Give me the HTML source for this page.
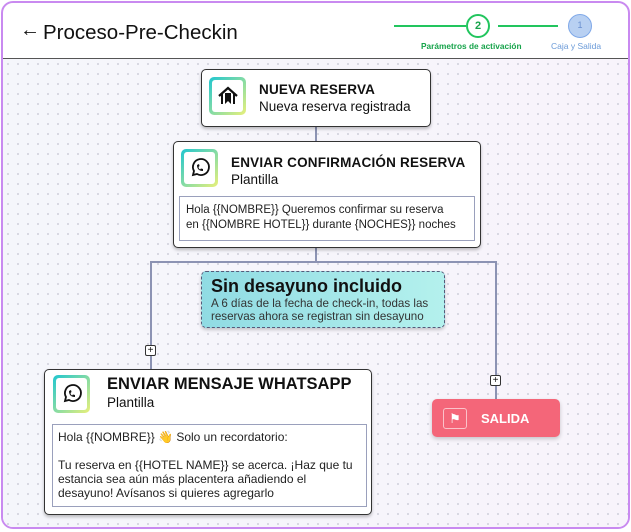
<!DOCTYPE html>
<html><head><meta charset="utf-8"><style>
*{box-sizing:border-box;margin:0;padding:0}
body{width:631px;height:532px;background:#fff;font-family:"Liberation Sans",sans-serif;position:relative;overflow:hidden;color:#111}
.frame{position:absolute;left:1px;top:1px;width:629px;height:528px;border:2px solid #c98af0;border-radius:12px;overflow:hidden;background:#fff}
.canvas{position:absolute;left:0;top:55px;width:100%;height:475px;border-top:1px solid #555;
background-image:radial-gradient(circle,#d6d6e0 1px,transparent 1.2px),linear-gradient(90deg,#f5f6fb,#f8f4fb);background-size:10px 10px,100% 100%}
.abs{position:absolute}
.node{position:absolute;background:#fff;border:1.5px solid #333;border-radius:5px;box-shadow:0 2px 3px rgba(0,0,0,.25)}
.icon{position:absolute;width:37px;height:38px;border-radius:5px;background:linear-gradient(135deg,#1fc6d0,#e9f07a);padding:3px}
.icon div{width:100%;height:100%;background:#fff;border-radius:3px;display:flex;align-items:center;justify-content:center}
.t{font-weight:bold;font-size:13.5px;letter-spacing:.2px}
.s{font-size:13.5px}
.box{position:absolute;border:1px solid #9aa0bc;font-size:11.5px;line-height:15px;padding:4px 6px;color:#222;white-space:nowrap}
.ln{position:absolute;background:#8c93b3}
.plus{position:absolute;width:11px;height:11px;border:1px solid #333;border-radius:2px;background:#fff;font-size:10px;line-height:9px;text-align:center}
</style></head><body>
<div class="frame">
 <div class="abs" style="left:17px;top:16px;font-size:20px">&#8592;</div>
 <div class="abs" style="left:40px;top:18px;font-size:20.5px">Proceso-Pre-Checkin</div>
 <div class="abs" style="left:391px;top:22px;width:72px;height:1.5px;background:#22c55e"></div>
 <div class="abs" style="left:463px;top:11px;width:24px;height:24px;border:2px solid #22c55e;border-radius:50%;color:#16a34a;font-size:11px;font-weight:bold;text-align:center;line-height:20px">2</div>
 <div class="abs" style="left:495px;top:22px;width:60px;height:1.5px;background:#22c55e"></div>
 <div class="abs" style="left:565px;top:11px;width:24px;height:24px;border:1.5px solid #7fa8e8;background:#b8d0f2;border-radius:50%;color:#6a8fd0;font-size:9px;text-align:center;line-height:21px">1</div>
 <div class="abs" style="left:418px;top:38px;font-size:8.3px;font-weight:bold;color:#16a34a">Parámetros de activación</div>
 <div class="abs" style="left:548px;top:38px;font-size:8.5px;color:#6a9ad8">Caja y Salida</div>
 <div class="canvas"></div>
</div>
<div class="ln" style="left:315px;top:126px;width:1.5px;height:16px"></div>
<div class="ln" style="left:315px;top:248px;width:1.5px;height:14px"></div>
<div class="ln" style="left:150px;top:261px;width:346px;height:1.5px"></div>
<div class="ln" style="left:150px;top:261px;width:1.5px;height:109px"></div>
<div class="ln" style="left:495px;top:261px;width:1.5px;height:139px"></div>
<div class="plus" style="left:145px;top:345px">+</div>
<div class="plus" style="left:490px;top:375px">+</div>

<div class="node" style="left:201px;top:69px;width:230px;height:58px">
 <div class="icon" style="left:7px;top:7px"><div><svg width="22" height="22" viewBox="0 0 22 22"><path d="M2 11 L11 3 L20 11" fill="none" stroke="#111" stroke-width="2.2"/><path d="M5 9 V19 M17 9 V19" stroke="#111" stroke-width="2"/><path d="M8 8 H14 V19 L11 16 L8 19Z" fill="#111"/></svg></div></div>
 <div class="abs t" style="left:57px;top:12px">NUEVA RESERVA</div>
 <div class="abs s" style="left:57px;top:29px">Nueva reserva registrada</div>
</div>

<div class="node" style="left:173px;top:141px;width:308px;height:107px">
 <div class="icon" style="left:7px;top:7px"><div><svg width="22" height="22" viewBox="0 0 22 22"><path d="M4 18 L5 14 A8 8 0 1 1 8 17 Z" fill="none" stroke="#111" stroke-width="1.8"/><path d="M8 8 Q8 14 14 14 L14 12 L12 11.5 L11 12.5 Q9.5 11.5 9.5 10 L10.5 9 L10 7 Z" fill="#111"/></svg></div></div>
 <div class="abs t" style="left:57px;top:13px">ENVIAR CONFIRMACIÓN RESERVA</div>
 <div class="abs s" style="left:57px;top:30px">Plantilla</div>
 <div class="box" style="left:5px;top:54px;width:296px;height:45px;padding-top:6px">Hola {{NOMBRE}} Queremos confirmar su reserva<br>en {{NOMBRE HOTEL}} durante {NOCHES}} noches</div>
</div>

<div class="abs" style="left:201px;top:271px;width:244px;height:57px;border:1.5px dashed #555a7a;border-radius:5px;background:linear-gradient(90deg,#90dbe3,#b4f1ed);box-shadow:0 2px 3px rgba(0,0,0,.2)">
 <div class="abs" style="left:9px;top:4px;font-size:18px;font-weight:bold;white-space:nowrap">Sin desayuno incluido</div>
 <div class="abs" style="left:9px;top:25px;font-size:11.6px;line-height:13px;color:#333;white-space:nowrap">A 6 días de la fecha de check-in, todas las<br>reservas ahora se registran sin desayuno</div>
</div>

<div class="node" style="left:44px;top:369px;width:328px;height:146px">
 <div class="icon" style="left:8px;top:5px"><div><svg width="22" height="22" viewBox="0 0 22 22"><path d="M4 18 L5 14 A8 8 0 1 1 8 17 Z" fill="none" stroke="#111" stroke-width="1.8"/><path d="M8 8 Q8 14 14 14 L14 12 L12 11.5 L11 12.5 Q9.5 11.5 9.5 10 L10.5 9 L10 7 Z" fill="#111"/></svg></div></div>
 <div class="abs" style="left:62px;top:5px;font-size:16.5px;font-weight:bold;white-space:nowrap">ENVIAR MENSAJE WHATSAPP</div>
 <div class="abs s" style="left:62px;top:25px">Plantilla</div>
 <div class="box" style="left:7px;top:54px;width:315px;height:83px;line-height:14px;font-size:12px;padding-top:5px;padding-left:5px">Hola {{NOMBRE}} 👋 Solo un recordatorio:<br><br>Tu reserva en {{HOTEL NAME}} se acerca. ¡Haz que tu<br>estancia sea aún más placentera añadiendo el<br>desayuno! Avísanos si quieres agregarlo</div>
</div>

<div class="abs" style="left:432px;top:399px;width:128px;height:38px;background:#f46679;border-radius:5px;box-shadow:0 2px 4px rgba(0,0,0,.2)">
 <div class="abs" style="left:11px;top:9px;width:24px;height:21px;border:1px solid #fbc2ca;border-radius:3px;color:#fff;font-size:13px;text-align:center;line-height:19px">⚑</div>
 <div class="abs" style="left:49px;top:12px;color:#fff;font-weight:bold;font-size:13px">SALIDA</div>
</div>
</body></html>
